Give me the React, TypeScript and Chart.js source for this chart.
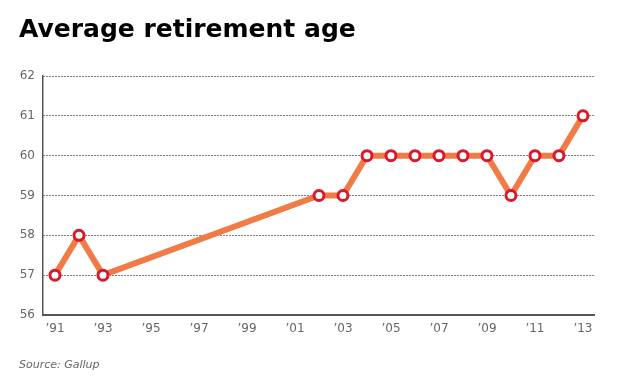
import React, { useEffect, useRef } from "react";
import { Chart, registerables } from "chart.js";

Chart.register(...registerables);

const years = [1991, 1992, 1993, 2002, 2003, 2004, 2005, 2006, 2007, 2008, 2009, 2010, 2011, 2012, 2013];
const ages = [57, 58, 57, 59, 59, 60, 60, 60, 60, 60, 60, 59, 60, 60, 61];
const tickYears = [1991, 1993, 1995, 1997, 1999, 2001, 2003, 2005, 2007, 2009, 2011, 2013];
const yTicks = [56, 57, 58, 59, 60, 61, 62];
const title = "Average retirement age";
const source = "Source: Gallup";

export default function App() {
  const ref = useRef<HTMLCanvasElement | null>(null);

  useEffect(() => {
    if (!ref.current) return;
    const chart = new Chart(ref.current, {
      type: "line",
      data: {
        datasets: [
          {
            data: years.map((y, i) => ({ x: y, y: ages[i] })),
            borderColor: "#F07B47",
            borderWidth: 6,
            pointRadius: 5,
            pointBorderWidth: 3,
            pointBackgroundColor: "#ffffff",
            pointBorderColor: "#D9182A",
            tension: 0,
            clip: false,
          },
        ],
      },
      options: {
        responsive: false,
        animation: false,
        layout: { padding: { top: 76, left: 0, right: 30, bottom: 0 } },
        plugins: { legend: { display: false }, tooltip: { enabled: false }, title: { display: false } },
        scales: {
          x: {
            type: "linear",
            min: 1990.5,
            max: 2013.46,
            afterBuildTicks: (scale: any) => {
              scale.ticks = tickYears.map((v) => ({ value: v }));
            },
            afterFit: (scale: any) => {
              scale.height = 75;
            },
            ticks: {
              autoSkip: false,
              maxRotation: 0,
              padding: 7,
              color: "#666",
              font: { family: "DejaVu Sans", size: 12 },
              callback: (v: any) => "\u2019" + String(v).slice(2),
            },
            grid: { display: false, drawTicks: false },
            border: { display: true, color: "#555", width: 2 },
          },
          y: {
            min: 56,
            max: 62,
            afterBuildTicks: (scale: any) => {
              scale.ticks = yTicks.map((v) => ({ value: v }));
            },
            afterFit: (scale: any) => {
              scale.width = 43;
            },
            ticks: {
              padding: 8,
              color: "#666",
              font: { family: "DejaVu Sans", size: 12 },
            },
            grid: { color: "#000", lineWidth: 1, drawTicks: false },
            border: { display: true, color: "#555", width: 1.5, dash: [1, 2] },
          },
        },
      },
    });
    return () => chart.destroy();
  }, []);

  return (
    <div style={{ position: "absolute", left: 0, top: 0, width: 624, height: 390, background: "#fff" }}>
      <canvas ref={ref} width={624} height={390} style={{ position: "absolute", left: 0, top: 0, width: 624, height: 390 }} />
      <div
        style={{
          position: "absolute",
          left: 19,
          top: 14,
          fontFamily: "DejaVu Sans",
          fontWeight: "bold",
          fontSize: 25,
          color: "#000",
          whiteSpace: "nowrap",
        }}
      >
        {title}
      </div>
      <div
        style={{
          position: "absolute",
          left: 19,
          top: 358,
          fontFamily: "DejaVu Sans",
          fontStyle: "italic",
          fontSize: 11,
          color: "#666",
          whiteSpace: "nowrap",
        }}
      >
        {source}
      </div>
    </div>
  );
}
